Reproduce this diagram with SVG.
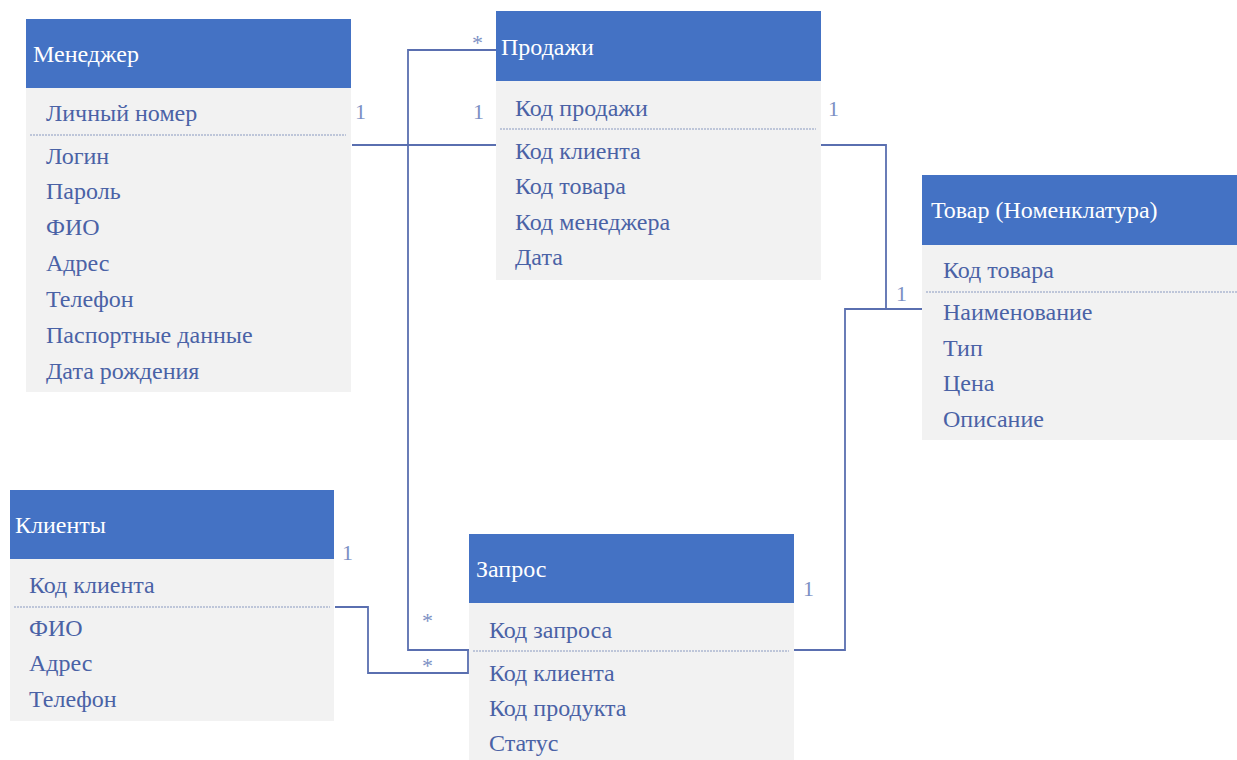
<svg xmlns="http://www.w3.org/2000/svg" width="1237" height="760" viewBox="0 0 1237 760">
<style>
.hd{fill:#4472C4}
.bd{fill:#F2F2F2}
.ht{font-size:24px;fill:#FFFFFF}
.ft{font-size:24px;fill:#4A62A6}
.sep{stroke:#8A9AC0;stroke-width:1.2;stroke-dasharray:2 1}
.cn{fill:none;stroke:#5A6FB0;stroke-width:1.8}
.lb{font-size:22px;fill:#7B90C4}
</style>
<rect width="1237" height="760" fill="#FFFFFF"/>
<g font-family="'Liberation Serif', 'Times New Roman', Tinos, 'DejaVu Serif', serif">
<g id="connectors">
<polyline class="cn" points="352,145 497,145"/>
<polyline class="cn" points="497,50 408,50 408,650 469,650"/>
<polyline class="cn" points="335,607 368,607 368,673 468,673 468,651"/>
<polyline class="cn" points="821,145 886,145 886,309 922,309"/>
<polyline class="cn" points="792,650 845,650 845,309 886,309"/>
<text class="lb" x="355" y="119">1</text>
<text class="lb" x="473" y="119">1</text>
<text class="lb" x="472" y="50">*</text>
<text class="lb" x="828" y="116">1</text>
<text class="lb" x="896" y="301">1</text>
<text class="lb" x="342" y="560">1</text>
<text class="lb" x="803" y="596">1</text>
<text class="lb" x="422" y="628">*</text>
<text class="lb" x="422" y="673">*</text>
</g>
<g id="manager">
<rect class="bd" x="26" y="88" width="325" height="304"/>
<rect class="hd" x="26" y="19" width="325" height="69"/>
<text class="ht" x="33" y="62">Менеджер</text>
<text class="ft" x="46" y="121">Личный номер</text>
<line class="sep" x1="30" y1="135" x2="346" y2="135"/>
<text class="ft" x="46" y="164">Логин</text>
<text class="ft" x="46" y="199">Пароль</text>
<text class="ft" x="46" y="235">ФИО</text>
<text class="ft" x="46" y="271">Адрес</text>
<text class="ft" x="46" y="307">Телефон</text>
<text class="ft" x="46" y="343">Паспортные данные</text>
<text class="ft" x="46" y="379">Дата рождения</text>
</g>
<g id="sales">
<rect class="bd" x="496" y="81" width="325" height="199"/>
<rect class="hd" x="496" y="11" width="325" height="70"/>
<text class="ht" x="501" y="55">Продажи</text>
<text class="ft" x="515" y="116">Код продажи</text>
<line class="sep" x1="500" y1="129" x2="816" y2="129"/>
<text class="ft" x="515" y="159">Код клиента</text>
<text class="ft" x="515" y="194">Код товара</text>
<text class="ft" x="515" y="230">Код менеджера</text>
<text class="ft" x="515" y="265">Дата</text>
</g>
<g id="product">
<rect class="bd" x="922" y="245" width="315" height="195"/>
<rect class="hd" x="922" y="175" width="315" height="70"/>
<text class="ht" x="931" y="218">Товар (Номенклатура)</text>
<text class="ft" x="943" y="278">Код товара</text>
<line class="sep" x1="926" y1="292" x2="1237" y2="292"/>
<text class="ft" x="943" y="320">Наименование</text>
<text class="ft" x="943" y="356">Тип</text>
<text class="ft" x="943" y="391">Цена</text>
<text class="ft" x="943" y="427">Описание</text>
</g>
<g id="clients">
<rect class="bd" x="10" y="559" width="324" height="162"/>
<rect class="hd" x="10" y="490" width="324" height="69"/>
<text class="ht" x="15" y="533">Клиенты</text>
<text class="ft" x="29" y="593">Код клиента</text>
<line class="sep" x1="14" y1="607" x2="330" y2="607"/>
<text class="ft" x="29" y="636">ФИО</text>
<text class="ft" x="29" y="671">Адрес</text>
<text class="ft" x="29" y="707">Телефон</text>
</g>
<g id="request">
<rect class="bd" x="469" y="603" width="325" height="157"/>
<rect class="hd" x="469" y="534" width="325" height="69"/>
<text class="ht" x="476" y="577">Запрос</text>
<text class="ft" x="489" y="638">Код запроса</text>
<line class="sep" x1="473" y1="651" x2="789" y2="651"/>
<text class="ft" x="489" y="681">Код клиента</text>
<text class="ft" x="489" y="716">Код продукта</text>
<text class="ft" x="489" y="751">Статус</text>
</g>
</g>
</svg>
